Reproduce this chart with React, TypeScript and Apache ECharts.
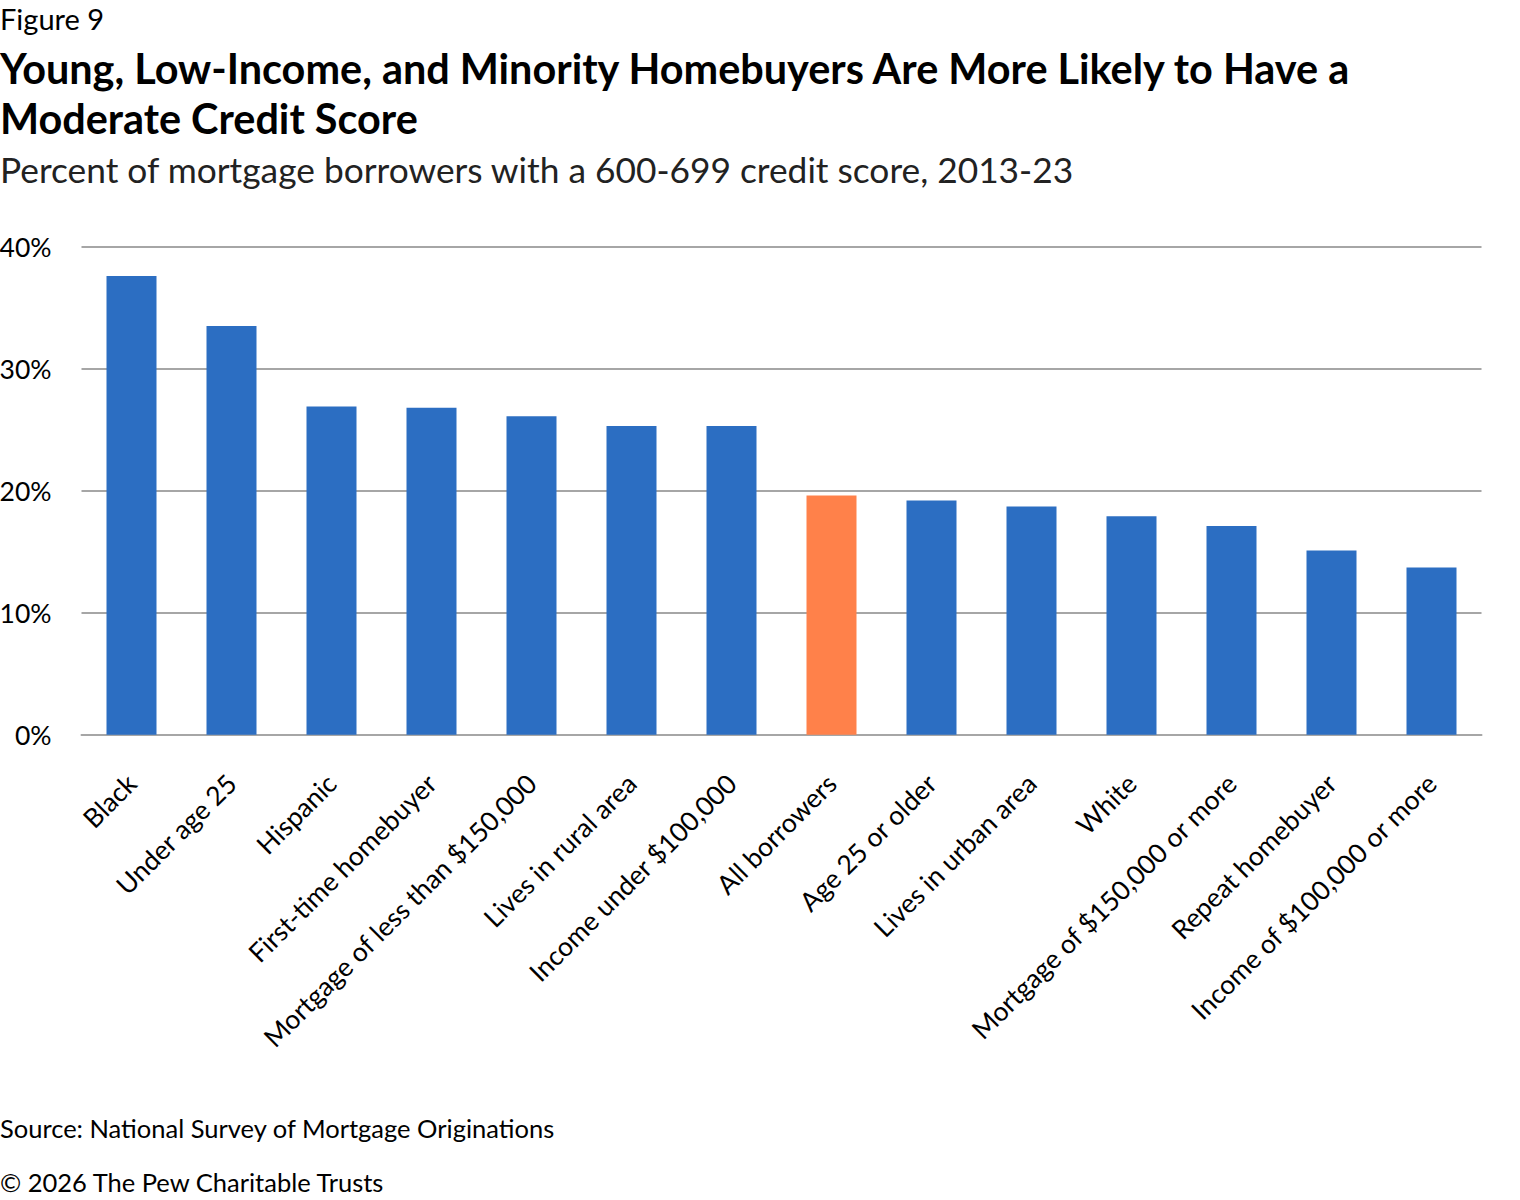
import React, { useEffect, useRef } from "react";
import * as echarts from "echarts";

const categories = [
  "Black",
  "Under age 25",
  "Hispanic",
  "First-time homebuyer",
  "Mortgage of less than $150,000",
  "Lives in rural area",
  "Income under $100,000",
  "All borrowers",
  "Age 25 or older",
  "Lives in urban area",
  "White",
  "Mortgage of $150,000 or more",
  "Repeat homebuyer",
  "Income of $100,000 or more",
];

const values = [37.6, 33.5, 26.9, 26.8, 26.1, 25.3, 25.3, 19.6, 19.2, 18.7, 17.9, 17.1, 15.1, 13.7];

const highlighted = ["All borrowers"];

const yTicks = [0, 10, 20, 30, 40];

const titleLines = [
  "Young, Low-Income, and Minority Homebuyers Are More Likely to Have a",
  "Moderate Credit Score",
];

const BLUE = "#2C6EC2";
const ORANGE = "#FF814A";
const FONT = "Lato";

export default function App() {
  const ref = useRef<HTMLDivElement>(null);

  useEffect(() => {
    document.body.style.margin = "0";
    const chart = echarts.init(ref.current!, null, { renderer: "svg" });
    chart.setOption({
      animation: false,
      backgroundColor: "#ffffff",
      textStyle: { fontFamily: FONT },
      graphic: [
        {
          type: "text",
          left: 0,
          top: 4,
          style: { text: "Figure 9", font: `400 29px ${FONT}`, lineHeight: 29, fill: "#000" },
        },
        ...titleLines.map((t, i) => ({
          type: "text",
          left: 0,
          top: 47.3 + i * 50,
          style: {
            text: t,
            font: `700 41.4px ${FONT}`,
            lineHeight: 41.4,
            fill: "#000",
          },
        })),
        {
          type: "text",
          left: 0,
          top: 152,
          style: {
            text: "Percent of mortgage borrowers with a 600-699 credit score, 2013-23",
            font: `400 35.3px ${FONT}`,
            lineHeight: 35,
            fill: "#222",
          },
        },
        {
          type: "text",
          left: 0,
          top: 1115,
          style: {
            text: "Source: National Survey of Mortgage Originations",
            font: `400 25.5px ${FONT}`,
            lineHeight: 25.5,
            fill: "#000",
          },
        },
        {
          type: "text",
          left: 0,
          top: 1169,
          style: {
            text: "\u00A9 2026 The Pew Charitable Trusts",
            font: `400 25.5px ${FONT}`,
            lineHeight: 25.5,
            fill: "#000",
          },
        },
      ],
      grid: {
        left: 81.5,
        right: 38.5,
        top: 246.7,
        bottom: 1200 - 734.7,
        containLabel: false,
        outerBoundsMode: "none",
      },
      xAxis: {
        type: "category",
        data: categories,
        axisLine: { show: true, lineStyle: { color: "#A6A6A6", width: 2 } },
        axisTick: { show: false },
        axisLabel: {
          interval: 0,
          rotate: 45,
          margin: 44,
          fontSize: 26.5,
          fontFamily: FONT,
          color: "#000",
        },
      },
      yAxis: {
        type: "value",
        min: yTicks[0],
        max: yTicks[yTicks.length - 1],
        interval: 10,
        axisLine: { show: false },
        axisTick: { show: false },
        splitLine: { lineStyle: { color: "#A6A6A6", width: 2 } },
        axisLabel: {
          formatter: (v: number) => `${v}%`,
          fontSize: 26.5,
          fontFamily: FONT,
          color: "#000",
          margin: 30,
        },
      },
      series: [
        {
          type: "bar",
          barWidth: "50%",
          data: values.map((v, i) => ({
            value: v,
            itemStyle: { color: highlighted.includes(categories[i]) ? ORANGE : BLUE },
          })),
        },
      ],
    });
    return () => chart.dispose();
  }, []);

  return <div ref={ref} style={{ width: 1520, height: 1200 }} />;
}
